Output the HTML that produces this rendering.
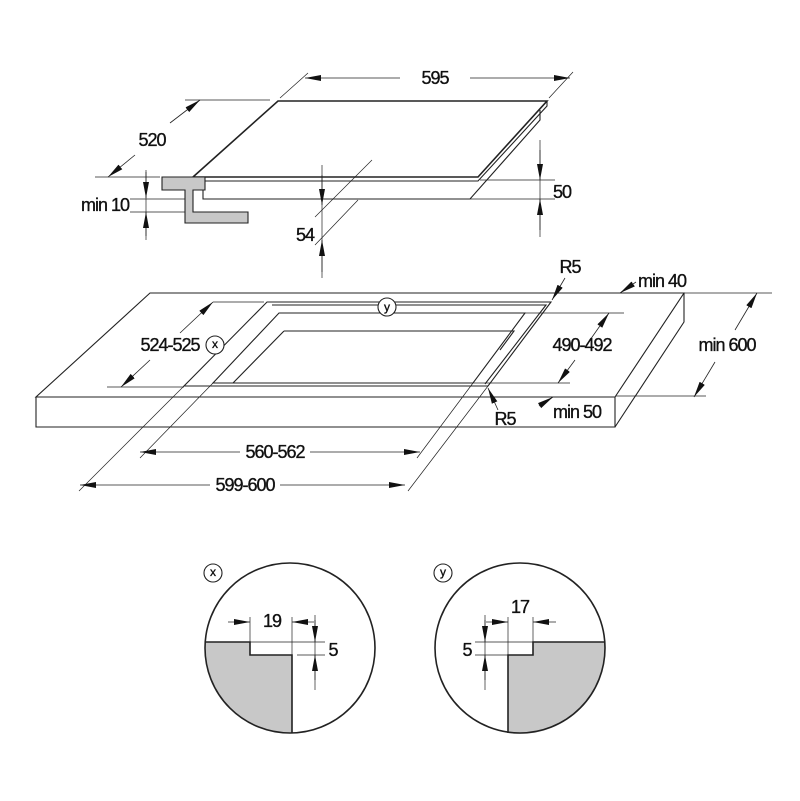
<!DOCTYPE html>
<html><head><meta charset="utf-8"><style>
html,body{margin:0;padding:0;background:#fff}
svg{display:block}
text{font-family:"Liberation Sans Narrow","Liberation Sans",sans-serif;font-size:18px;letter-spacing:-1px;fill:#111;stroke:#111;stroke-width:0.35;text-anchor:middle;dominant-baseline:central}
</style></head><body>
<svg width="800" height="801" viewBox="0 0 800 801" xmlns="http://www.w3.org/2000/svg">
<defs>
<marker id="a" markerUnits="userSpaceOnUse" markerWidth="16" markerHeight="8" refX="16" refY="4" orient="auto"><path d="M0,1 L16,4 L0,7 z" fill="#111"/></marker>
</defs>
<g stroke="#222" fill="none" stroke-width="1.1">
<path d="M278,101 L547,101 L478,177 L193,177 Z" stroke-width="1.6"/>
<path d="M547,101 L547,106 L478,181 L200,181" />
<path d="M540,110 L540,120 L470,199 L203,199 L203,181"/>
<path d="M193,177 L193,181 L200,181"/>
<path d="M162,177 L205,177 L205,190 L193,190 L193,212 L248,212 L248,223 L185,223 L185,190 L162,190 Z" fill="#c8c8c8"/>
<g stroke-width="0.7">
<path d="M280,98 L308,73 M549,98 L573,72"/>
<path d="M185,100 L270,100 M95,177 L160,177"/>
<path d="M130,199 L185,199 M130,212 L185,212"/>
<path d="M480,180 L555,180 M470,199 L555,199"/>
<path d="M372,160 L315,217 M358,200 L315,245"/>
<path d="M322,165 L322,278 M146,170 L146,240 M540,140 L540,237"/>
</g>
<g stroke-width="0.8">
<path d="M400,78 L305,78" marker-end="url(#a)"/><path d="M470,78 L570,78" marker-end="url(#a)"/>
<path d="M170,123 L200,100" marker-end="url(#a)"/><path d="M135,155 L108,177" marker-end="url(#a)"/>
<path d="M146,172 L146,198" marker-end="url(#a)"/><path d="M146,236 L146,212" marker-end="url(#a)"/>
<path d="M540,150 L540,180" marker-end="url(#a)"/><path d="M540,230 L540,199" marker-end="url(#a)"/>
<path d="M322,175 L322,205" marker-end="url(#a)"/><path d="M322,272 L322,240" marker-end="url(#a)"/>
</g>
<path d="M150,293 L684,293 L615,397 L36,397 Z"/>
<path d="M36,397 L36,427 L615,427 L615,397 M684,293 L684,322 L615,427"/>
<path d="M267,302 L551,302 L488,386 L184,386 Z"/>
<path d="M272,305 L546,305 L485,384"/>
<path d="M279,313 L525,313 L473,383 L213,383 Z"/>
<path d="M284,331 L514,331 L500,350 M284,331 L233,383"/>
<g stroke-width="0.7">
<path d="M213,302 L264,302 M107,387 L184,387"/>
<path d="M525,313 L624,313 M473,383 L570,383"/>
<path d="M684,293 L772,293 M616,396 L706,396"/>
<path d="M184,386 L79,491 M488,386 L408,491"/>
<path d="M213,383 L140,458 M473,383 L417,458"/>
</g>
<g stroke-width="0.8">
<path d="M180,333 L213,302" marker-end="url(#a)"/><path d="M150,360 L121,387" marker-end="url(#a)"/>
<path d="M590,340 L609,313" marker-end="url(#a)"/><path d="M575,360 L558,383" marker-end="url(#a)"/>
<path d="M735,330 L757,293" marker-end="url(#a)"/><path d="M715,362 L694,397" marker-end="url(#a)"/>
<path d="M636,282 L620,293" marker-end="url(#a)"/>
<path d="M565,278 L552,300" marker-end="url(#a)"/>
<path d="M498,410 L488,388" marker-end="url(#a)"/>
<path d="M539,406 L553,397" marker-end="url(#a)"/>
<path d="M240,452 L140,452" marker-end="url(#a)"/><path d="M310,452 L420,452" marker-end="url(#a)"/>
<path d="M210,485 L80,485" marker-end="url(#a)"/><path d="M280,485 L405,485" marker-end="url(#a)"/>
</g>
<circle cx="387" cy="307" r="9" fill="#fff"/>
<circle cx="215" cy="345" r="9" fill="#fff"/>
<path d="M205,642 L250,642 L250,655 L292,655 L292,733 A85,85 0 0 1 205,642 Z" fill="#c8c8c8" stroke="none"/>
<circle cx="290" cy="648" r="85" stroke-width="1.6"/>
<path d="M205,642 L250,642 L250,655 L292,655 L292,733" stroke-width="1.6"/>
<g stroke-width="0.7"><path d="M250,617 L250,642 L325,642 M292,617 L292,655 M297,655 L325,655 M315,615 L315,690"/></g>
<path d="M228,622 L250,622" marker-end="url(#a)" stroke-width="0.8"/><path d="M314,622 L292,622" marker-end="url(#a)" stroke-width="0.8"/>
<path d="M315,620 L315,642" marker-end="url(#a)" stroke-width="0.8"/><path d="M315,680 L315,655" marker-end="url(#a)" stroke-width="0.8"/>
<circle cx="213" cy="573" r="9"/>
<path d="M605,642 L533,642 L533,655 L508,655 L508,733 A85,85 0 0 0 605,642 Z" fill="#c8c8c8" stroke="none"/>
<circle cx="520" cy="648" r="85" stroke-width="1.6"/>
<path d="M605,642 L533,642 L533,655 L508,655 L508,733" stroke-width="1.6"/>
<g stroke-width="0.7"><path d="M508,617 L508,655 M533,617 L533,642 M475,642 L533,642 M475,655 L508,655 M485,615 L485,690"/></g>
<path d="M486,622 L508,622" marker-end="url(#a)" stroke-width="0.8"/><path d="M556,622 L533,622" marker-end="url(#a)" stroke-width="0.8"/>
<path d="M485,620 L485,642" marker-end="url(#a)" stroke-width="0.8"/><path d="M485,680 L485,655" marker-end="url(#a)" stroke-width="0.8"/>
<circle cx="443" cy="573" r="9"/>
</g>
<text x="435" y="78">595</text>
<text x="152" y="140">520</text>
<text x="105" y="205">min 10</text>
<text x="562" y="192">50</text>
<text x="305" y="235">54</text>
<text x="570" y="267">R5</text>
<text x="662" y="281">min 40</text>
<text x="387" y="307" style="font-size:12px;letter-spacing:0">y</text>
<text x="170" y="345">524-525</text>
<text x="215" y="344" style="font-size:12px;letter-spacing:0">x</text>
<text x="582" y="345">490-492</text>
<text x="727" y="345">min 600</text>
<text x="505" y="419">R5</text>
<text x="577" y="412">min 50</text>
<text x="275" y="452">560-562</text>
<text x="245" y="485">599-600</text>
<text x="213" y="572" style="font-size:12px;letter-spacing:0">x</text>
<text x="443" y="572" style="font-size:12px;letter-spacing:0">y</text>
<text x="272" y="621">19</text>
<text x="333" y="650">5</text>
<text x="520" y="607">17</text>
<text x="467" y="650">5</text>
</svg>
</body></html>
